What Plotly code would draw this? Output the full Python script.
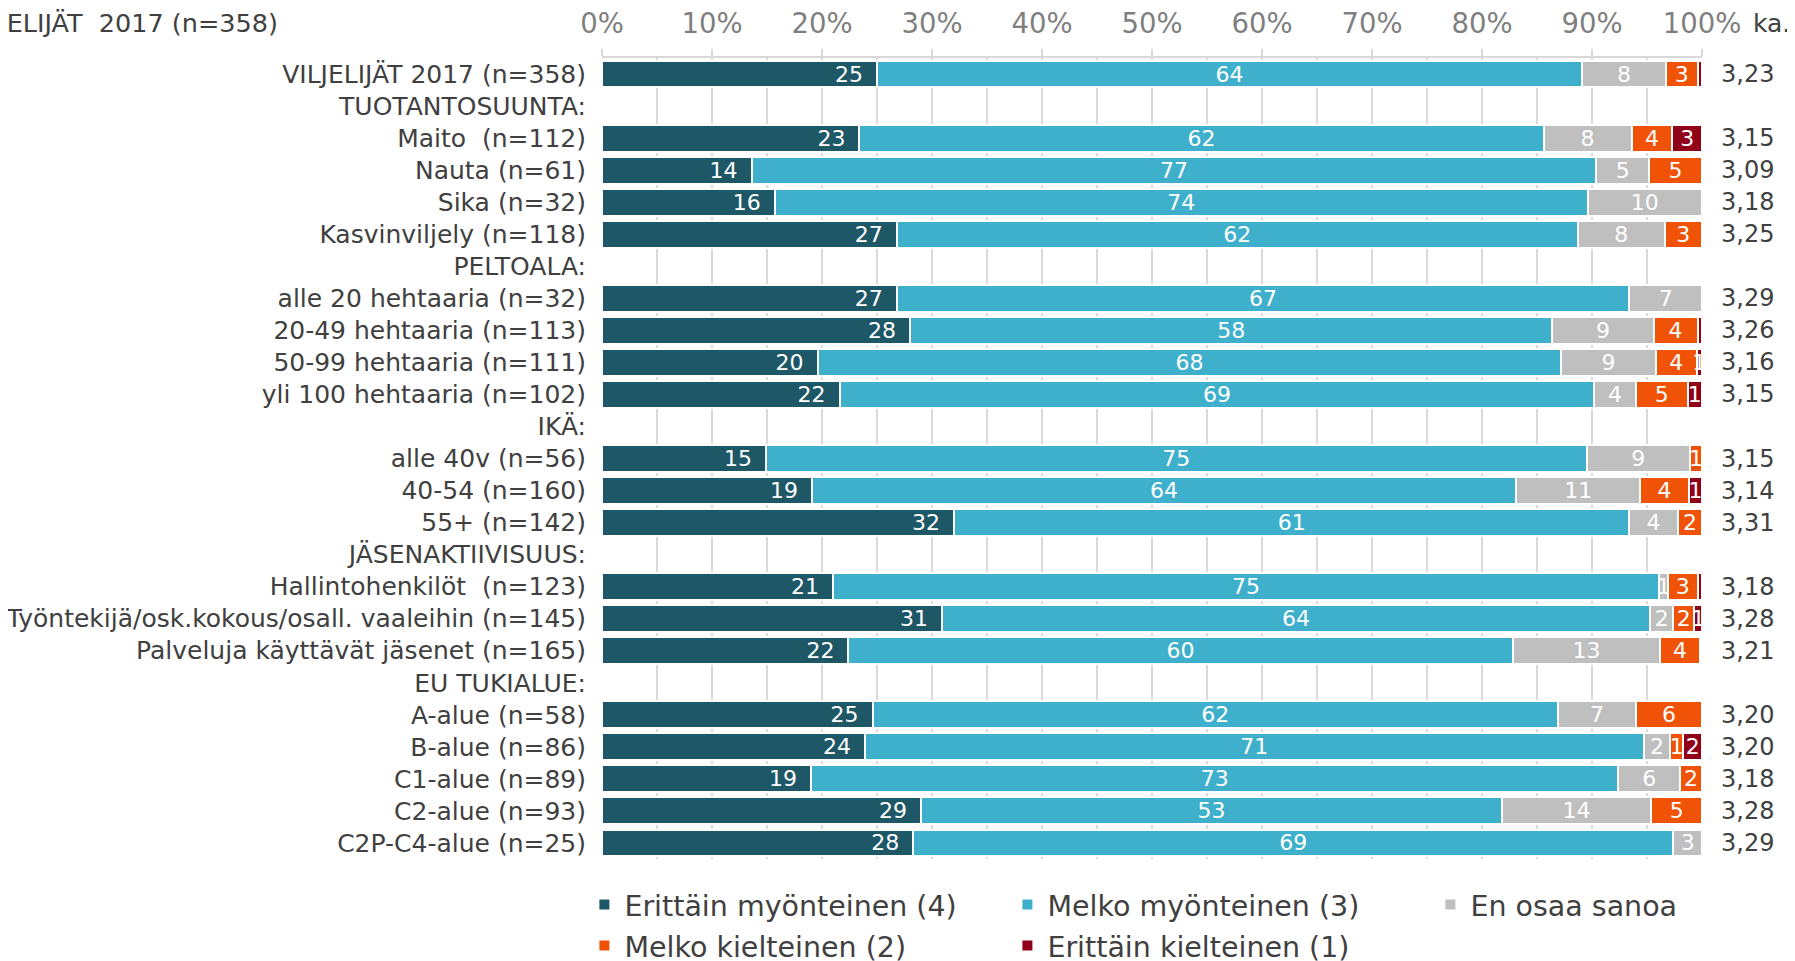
import plotly.graph_objects as go

categories = [
    "VILJELIJÄT 2017 (n=358)",
    "TUOTANTOSUUNTA:",
    "Maito\u00a0 (n=112)",
    "Nauta (n=61)",
    "Sika (n=32)",
    "Kasvinviljely (n=118)",
    "PELTOALA:",
    "alle 20 hehtaaria (n=32)",
    "20-49 hehtaaria (n=113)",
    "50-99 hehtaaria (n=111)",
    "yli 100 hehtaaria (n=102)",
    "IKÄ:",
    "alle 40v (n=56)",
    "40-54 (n=160)",
    "55+ (n=142)",
    "JÄSENAKTIIVISUUS:",
    "Hallintohenkilöt\u00a0 (n=123)",
    "Työntekijä/osk.kokous/osall. vaaleihin (n=145)",
    "Palveluja käyttävät jäsenet (n=165)",
    "EU TUKIALUE:",
    "A-alue (n=58)",
    "B-alue (n=86)",
    "C1-alue (n=89)",
    "C2-alue (n=93)",
    "C2P-C4-alue (n=25)",
]

erittain_myonteinen = [25.0, None, 23.4, 13.6, 15.7, 26.8, None, 26.8, 28.0, 19.6, 21.6, None,
                       14.9, 19.1, 32.0, None, 21.0, 30.9, 22.4, None, 24.6, 23.9, 19.0, 29.0, 28.3]
melko_myonteinen = [64.1, None, 62.2, 76.8, 73.9, 61.9, None, 66.6, 58.4, 67.6, 68.6, None,
                    74.6, 64.0, 61.4, None, 75.1, 64.4, 60.4, None, 62.3, 70.8, 73.4, 52.8, 69.1]
en_osaa_sanoa = [7.6, None, 8.0, 4.8, 10.4, 7.9, None, 6.6, 9.2, 8.6, 3.8, None,
                 9.4, 11.3, 4.4, None, 0.8, 2.1, 13.4, None, 7.1, 2.4, 5.6, 13.6, 2.6]
melko_kielteinen = [2.9, None, 3.7, 4.8, None, 3.4, None, None, 4.0, 3.7, 4.7, None,
                    1.1, 4.4, 2.2, None, 2.7, 1.9, 3.6, None, 6.0, 1.2, 2.0, 4.6, None]
erittain_kielteinen = [0.4, None, 2.7, None, None, None, None, None, 0.4, 0.5, 1.3, None,
                       None, 1.2, None, None, 0.4, 0.7, None, None, None, 1.7, None, None, None]

keskiarvo = [3.23, None, 3.15, 3.09, 3.18, 3.25, None, 3.29, 3.26, 3.16, 3.15, None,
             3.15, 3.14, 3.31, None, 3.18, 3.28, 3.21, None, 3.20, 3.20, 3.18, 3.28, 3.29]

series = [
    ("Erittäin myönteinen (4)", erittain_myonteinen, "#1E5867", "legend", "end"),
    ("Melko myönteinen (3)", melko_myonteinen, "#3FB0CC", "legend", "middle"),
    ("En osaa sanoa", en_osaa_sanoa, "#BFBFBF", "legend", "middle"),
    ("Melko kielteinen (2)", melko_kielteinen, "#F05306", "legend2", "middle"),
    ("Erittäin kielteinen (1)", erittain_kielteinen, "#900018", "legend2", "middle"),
]

FONT = "DejaVu Sans"
TXT = "#404040"


def label(v, anchor):
    if v is None or v < 0.5:
        return ""
    s = str(int(v + 0.5))
    return s + "\u2002" if anchor == "end" else s


fig = go.Figure()
for name, vals, color, lg, anchor in series:
    fig.add_trace(go.Bar(
        y=categories, x=vals, name=name, orientation="h",
        marker=dict(color=color, line=dict(color="white", width=2)),
        text=[label(v, anchor) for v in vals],
        textposition="inside", insidetextanchor=anchor, textangle=0,
        textfont=dict(family=FONT, size=22, color="white"),
        hoverinfo="skip", legend=lg,
    ))

TOP_Y = 1.0433
annotations = []
for cat, m in zip(categories, keskiarvo):
    if m is None:
        continue
    annotations.append(dict(
        x=1.0418, xref="paper", y=cat, yref="y", xanchor="center", yanchor="middle",
        text=f"{m:.2f}".replace(".", ","), showarrow=False,
        font=dict(family=FONT, size=24, color=TXT),
    ))
annotations.append(dict(
    x=1.0636, xref="paper", y=TOP_Y, yref="paper", xanchor="center", yanchor="middle",
    text="ka.", showarrow=False, font=dict(family=FONT, size=25, color=TXT),
))
annotations.append(dict(
    x=(272 - 594) / 1100, xref="paper", y=TOP_Y, yref="paper", xanchor="right", yanchor="middle",
    text="VILJELIJÄT\u00a0 2017 (n=358)", showarrow=False, font=dict(family=FONT, size=25.5, color=TXT),
))

legend_common = dict(
    orientation="h", xanchor="left", yanchor="middle",
    entrywidth=378, entrywidthmode="pixels", traceorder="normal",
    font=dict(family=FONT, size=28.5, color=TXT), bgcolor="rgba(0,0,0,0)",
)

fig.update_layout(
    template="none",
    width=1787, height=953,
    margin=dict(l=594, r=93, t=50, b=102, autoexpand=False),
    paper_bgcolor="white", plot_bgcolor="white",
    barmode="stack", bargap=0.16,
    font=dict(family=FONT, color=TXT),
    uniformtext=dict(minsize=22, mode="show"),
    showlegend=True,
    legend=dict(x=-0.016, y=-0.0574, **legend_common),
    legend2=dict(x=-0.016, y=-0.1086, **legend_common),
    annotations=annotations,
    xaxis=dict(
        side="top", range=[0, 100], dtick=10, tick0=0, ticksuffix="%",
        tickfont=dict(family=FONT, size=27.5, color="#7F7F7F"),
        showgrid=True, gridcolor="#D9D9D9", gridwidth=2,
        minor=dict(dtick=5, showgrid=True, gridcolor="#D9D9D9", gridwidth=2, ticks=""),
        showline=True, linecolor="#D9D9D9", linewidth=2,
        ticks="outside", ticklen=7, tickcolor="#D9D9D9", tickwidth=2,
        ticklabelstandoff=5, zeroline=False, fixedrange=True,
    ),
    yaxis=dict(
        categoryorder="array", categoryarray=categories, autorange="reversed",
        tickfont=dict(family=FONT, size=25, color=TXT),
        showgrid=False, ticks="", ticklabelstandoff=15, showline=False, zeroline=False,
        fixedrange=True,
    ),
)

fig.write_html("out.html")
